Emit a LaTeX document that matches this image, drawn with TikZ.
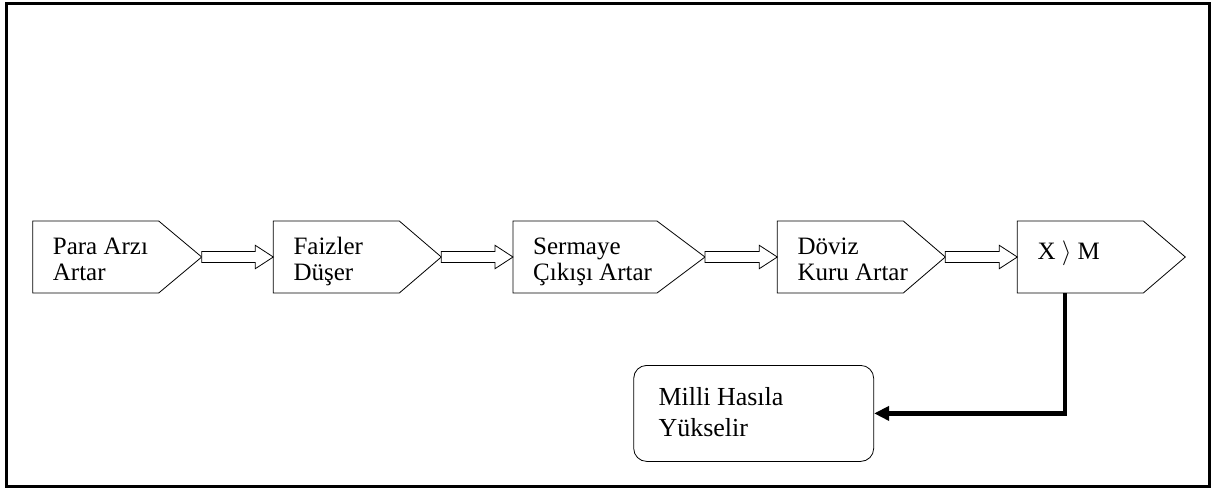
\documentclass[tikz,border=0pt]{standalone}
\usepackage{fontspec}
\setmainfont{Liberation Serif}
\usetikzlibrary{calc,arrows.meta}

% hollow block arrow from the tip of one stage to the left side of the next
\newcommand\blockarrow[2]{%
  \draw[outline, fill=white]
    ($(#1)+(0,-5.5)$) -- ($(#2)+(-18,-5.5)$) -- ($(#2)+(-18,-11.7)$) -- (#2)
    -- ($(#2)+(-18,11.7)$) -- ($(#2)+(-18,5.5)$) -- ($(#1)+(0,5.5)$) -- cycle;}

% pentagon outline around a stage body, tip pointing right
\newcommand\pentagon[3]{%
  \draw[outline] (#1.north west) -- (#1.north east) -- ($(#1.east)+(#2,0)$)
    coordinate (#3) -- (#1.south east) -- (#1.south west) -- cycle;}

\begin{document}
\begin{tikzpicture}[x=1pt, y=-1pt,
  stage/.style={draw=none, minimum width=126pt, minimum height=72pt,
    inner sep=0pt, outer sep=0pt, anchor=north west},
  outline/.style={draw=black, line width=0.8pt, line join=miter},
  lbl/.style={font=\fontsize{25}{26}\selectfont, align=left,
    inner sep=0pt, anchor=south west},
  biglbl/.style={font=\fontsize{26}{31}\selectfont, align=left,
    inner sep=0pt, anchor=south west},
  result/.style={outline, rounded corners=13pt, minimum width=240pt,
    minimum height=96pt, inner sep=0pt, anchor=north west},
  mainarrow/.style={line width=4.5pt, line join=miter,
    -{Triangle[length=15pt, width=14pt]}}
]
\useasboundingbox (0,0) rectangle (1220,491);

% outer frame
\draw[line width=3.5pt] (6.5,3.5) rectangle (1209.3,486.7);

% stage bodies
\node[stage] (b1) at (32.7,221) {};
\node[stage] (b2) at (273.3,221) {};
\node[stage, minimum width=144pt] (b3) at (513,221) {};
\node[stage] (b4) at (777.3,221) {};
\node[stage] (b5) at (1017.3,221) {};

\pentagon{b1}{43}{b1tip}
\pentagon{b2}{42}{b2tip}
\pentagon{b3}{48}{b3tip}
\pentagon{b4}{42}{b4tip}
\pentagon{b5}{42}{b5tip}

% stage labels
\node[lbl] (t1) at (52.7,288.1) {Para Arzı\\\strut Artar};
\node[lbl] (t2) at (293.3,288.1) {Faizler\\\strut Düşer};
\node[lbl] (t3) at (533,288.1) {Sermaye\\\strut Çıkışı Artar};
\node[lbl] (t4) at (797.3,288.1) {Döviz\\\strut Kuru Artar};
\node[lbl] (t5) at (1037.3,267.1) {\strut X $\rangle$ M};

% arrows between stages
\blockarrow{b1tip}{b2.west}
\blockarrow{b2tip}{b3.west}
\blockarrow{b3tip}{b4.west}
\blockarrow{b4tip}{b5.west}

% outcome
\node[result] (mh) at (633.3,365) {};
\node[biglbl] (t6) at (658.3,446) {Milli Hasıla\\\strut Yükselir};

\draw[mainarrow] ($(b5.south)+(-15.3,0)$) |- (mh.east);
\end{tikzpicture}
\end{document}
